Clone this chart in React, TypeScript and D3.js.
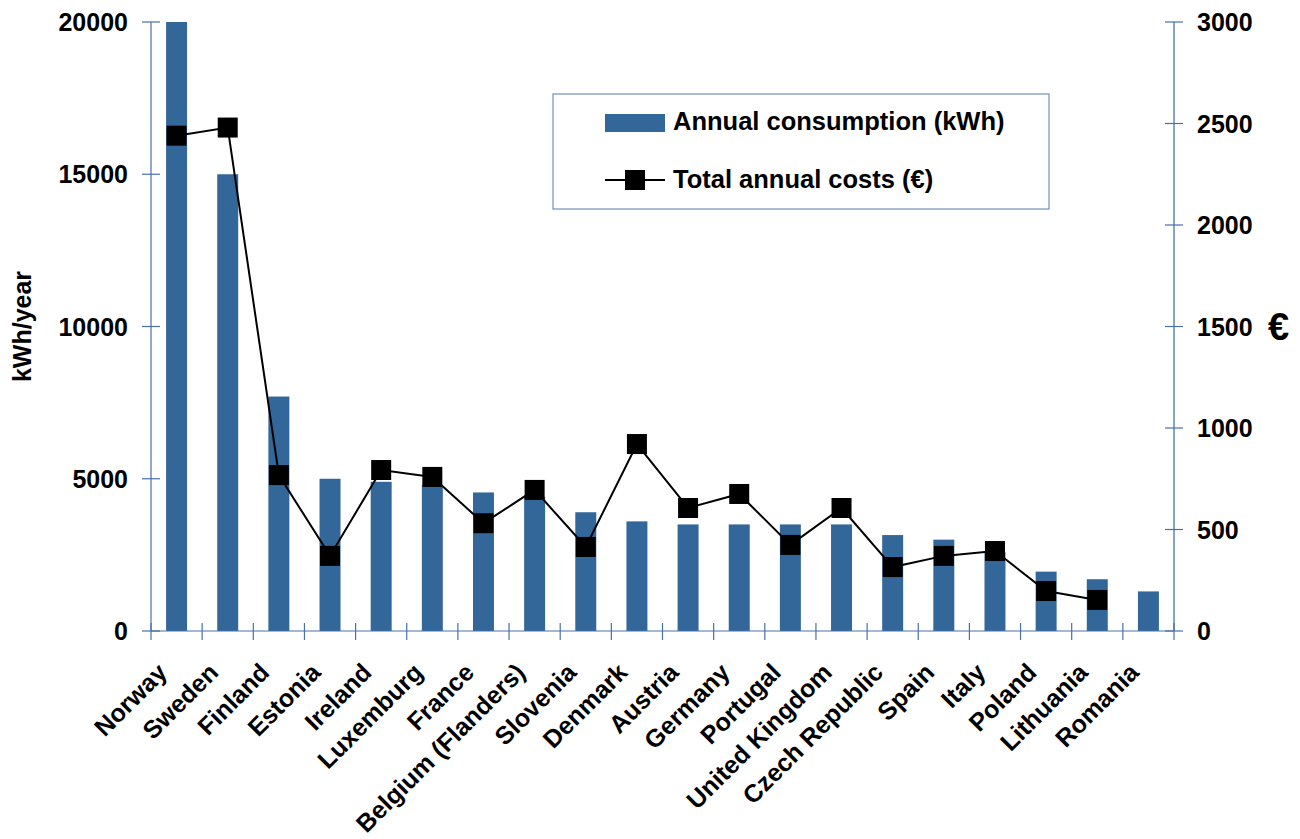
import React from "react";
import * as d3 from "d3";

const countries = [
  "Norway", "Sweden", "Finland", "Estonia", "Ireland", "Luxemburg", "France",
  "Belgium (Flanders)", "Slovenia", "Denmark", "Austria", "Germany", "Portugal",
  "United Kingdom", "Czech Republic", "Spain", "Italy", "Poland", "Lithuania", "Romania",
];

// Annual consumption, kWh/year
const consumption = [
  20000, 15000, 7700, 5000, 4900, 4800, 4550, 4400, 3900, 3600, 3500, 3500, 3500,
  3500, 3150, 3000, 2600, 1950, 1700, 1300,
];

// Total annual costs, € (no figure for Romania)
const costs: (number | null)[] = [
  2440, 2480, 768, 370, 793, 759, 531, 695, 414, 921, 606, 675, 424, 606, 315,
  370, 394, 197, 153, null,
];

const leftTicks = [0, 5000, 10000, 15000, 20000];
const rightTicks = [0, 500, 1000, 1500, 2000, 2500, 3000];

const W = 1300;
const H = 839;
const M = { left: 151, right: 1174, top: 22, bottom: 631 };
const FONT = "'Liberation Sans', Arial, Helvetica, sans-serif";
const BAR = "#336699";
const AXIS = "#4a70a8";
const AXIS_R = "#86a3c9";

export default function App() {
  const x = d3.scaleBand<string>().domain(countries).range([M.left, M.right]).padding(0);
  const yL = d3.scaleLinear().domain([0, 20000]).range([M.bottom, M.top]);
  const yR = d3.scaleLinear().domain([0, 3000]).range([M.bottom, M.top]);
  const barW = x.bandwidth() * 0.41;
  const cx = (c: string) => (x(c) as number) + x.bandwidth() / 2;

  const costPts = countries
    .map((c, i) => ({ c, v: costs[i] }))
    .filter((d) => d.v !== null) as { c: string; v: number }[];
  const line = d3
    .line<{ c: string; v: number }>()
    .x((d) => cx(d.c))
    .y((d) => yR(d.v));

  const boundaries = d3.range(countries.length + 1).map((i) => M.left + i * x.step());
  const mk = 20;

  return (
    <svg width={W} height={H} style={{ position: "absolute", left: 0, top: 0, background: "#fff" }}
      fontFamily={FONT} fontWeight="bold">
      {/* bars */}
      {countries.map((c, i) => (
        <rect key={c} x={cx(c) - barW / 2} y={yL(consumption[i])} width={barW}
          height={M.bottom - yL(consumption[i])} fill={BAR} />
      ))}

      {/* left axis */}
      <line x1={M.left} x2={M.left} y1={M.top} y2={M.bottom} stroke={AXIS} strokeWidth={1.2} />
      {leftTicks.map((t) => (
        <g key={t}>
          <line x1={M.left - 9} x2={M.left + 9} y1={yL(t)} y2={yL(t)} stroke={AXIS} strokeWidth={1.2} />
          <text x={128} y={yL(t)} dy="0.36em" textAnchor="end" fontSize={25} fill="#000">{t}</text>
        </g>
      ))}
      <text transform={`translate(31,${(M.top + M.bottom) / 2}) rotate(-90)`} textAnchor="middle"
        fontSize={25} fill="#000">kWh/year</text>

      {/* right axis */}
      <line x1={M.right} x2={M.right} y1={M.top} y2={M.bottom} stroke={AXIS_R} strokeWidth={2} />
      {rightTicks.map((t) => (
        <g key={t}>
          <line x1={M.right - 9} x2={M.right + 9} y1={yR(t)} y2={yR(t)} stroke={AXIS} strokeWidth={1.2} />
          <text x={1197} y={yR(t)} dy="0.36em" textAnchor="start" fontSize={25} fill="#000">{t}</text>
        </g>
      ))}
      <text x={1268} y={340} fontSize={38} fill="#000">€</text>

      {/* bottom axis */}
      <line x1={M.left} x2={M.right} y1={M.bottom} y2={M.bottom} stroke={AXIS} strokeWidth={1.2} />
      {boundaries.map((bx, i) => (
        <line key={i} x1={bx} x2={bx} y1={M.bottom - 8} y2={M.bottom + 9} stroke={AXIS} strokeWidth={1.2} />
      ))}
      {countries.map((c) => (
        <text key={c} transform={`translate(${cx(c) - 8},${674}) rotate(-45)`} textAnchor="end"
          fontSize={25} fill="#000">{c}</text>
      ))}

      {/* cost line and markers */}
      <path d={line(costPts) || ""} fill="none" stroke="#000" strokeWidth={2} />
      {costPts.map((d) => (
        <rect key={d.c} x={cx(d.c) - mk / 2} y={yR(d.v) - mk / 2} width={mk} height={mk} fill="#000" />
      ))}

      {/* legend */}
      <rect x={553} y={94} width={496} height={115} fill="#fff" stroke="#6f8fbf" strokeWidth={1.2} />
      <rect x={605} y={114} width={60} height={18} fill={BAR} />
      <text x={673} y={130} fontSize={25.5} fill="#000">Annual consumption (kWh)</text>
      <line x1={605} x2={665} y1={180} y2={180} stroke="#000" strokeWidth={2} />
      <rect x={625} y={170} width={20} height={20} fill="#000" />
      <text x={673} y={188} fontSize={25.5} fill="#000">Total annual costs (€)</text>
    </svg>
  );
}
